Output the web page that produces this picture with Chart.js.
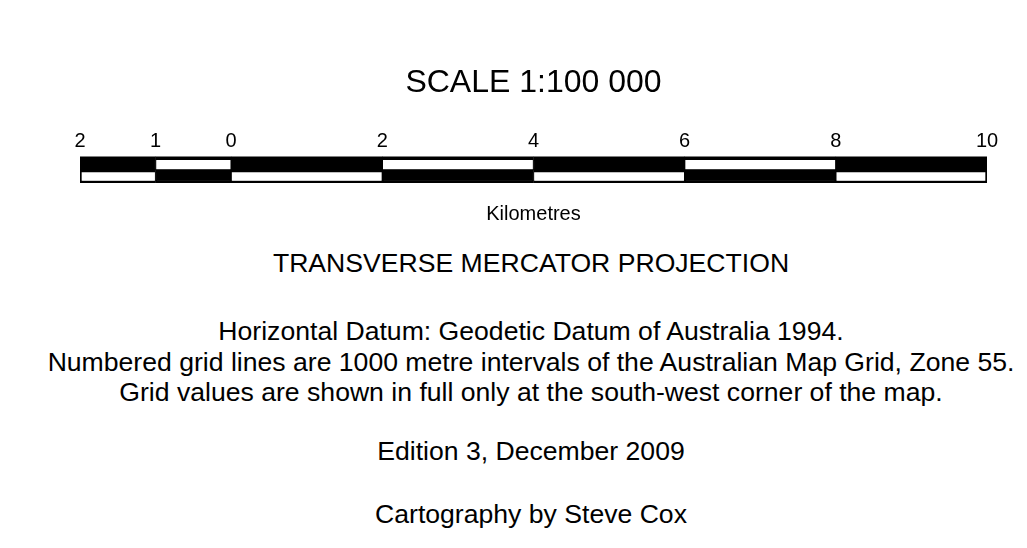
<!DOCTYPE html>
<html>
<head>
<meta charset="utf-8">
<title>Scale bar</title>
<script src="https://cdn.jsdelivr.net/npm/chart.js@4"></script>
<style>
  body { margin: 0; background: #fff; }
  #page { position: relative; width: 1027px; height: 548px; overflow: hidden; background: #fff; }
  #scale-bar { position: absolute; left: 0; top: 0; }
  .note {
    position: absolute;
    left: 35px;
    width: 992px;
    text-align: center;
    font-family: 'Liberation Sans', Arial, sans-serif;
    font-size: 26.6px;
    line-height: 30px;
    color: #000;
    white-space: nowrap;
  }
</style>
</head>
<body>
<div id="page">
  <canvas id="scale-bar" width="1027" height="226"></canvas>
  <div class="note" style="top:248px">TRANSVERSE MERCATOR PROJECTION</div>
  <div class="note" style="top:316px">Horizontal Datum: Geodetic Datum of Australia 1994.</div>
  <div class="note" style="top:347px">Numbered grid lines are 1000 metre intervals of the Australian Map Grid, Zone 55.</div>
  <div class="note" style="top:377px">Grid values are shown in full only at the south-west corner of the map.</div>
  <div class="note" style="top:436px">Edition 3, December 2009</div>
  <div class="note" style="top:499px">Cartography by Steve Cox</div>
</div>

<script>
// Divisões da barra de escala (km) e rótulos exibidos acima
const kmBreaks = [-2, -1, 0, 2, 4, 6, 8, 10];
const tickLabels = ['2', '1', '0', '2', '4', '6', '8', '10'];

// Duas faixas da barra, com cores alternadas
const rows = ['upper', 'lower'];
const upperFill = ['#000', '#fff', '#000', '#fff', '#000', '#fff', '#000'];
const lowerFill = ['#fff', '#000', '#fff', '#000', '#fff', '#000', '#fff'];

const FONT = "'Liberation Sans', Arial, sans-serif";

/**
 * Monta os segmentos [inicio, fim] de cada faixa
 */
function montarSegmentos() {
  const segs = [];
  const fills = [];
  rows.forEach((row, r) => {
    const cores = r === 0 ? upperFill : lowerFill;
    for (let i = 0; i < kmBreaks.length - 1; i++) {
      segs.push({ x: [kmBreaks[i], kmBreaks[i + 1]], y: row });
      fills.push(cores[i]);
    }
  });
  return { segs, fills };
}

const { segs, fills } = montarSegmentos();

// Borda preta em volta dos segmentos brancos
function bordaSegmento(ctx) {
  const p = ctx.raw;
  if (!p) return 0;
  const upper = p.y === 'upper';
  return {
    top: upper ? 4 : 3,
    bottom: upper ? 0.5 : 2.5,
    left: p.x[0] === kmBreaks[0] ? 2 : 1,
    right: p.x[1] === kmBreaks[kmBreaks.length - 1] ? 2 : 1
  };
}

const ctx = document.getElementById('scale-bar').getContext('2d');
new Chart(ctx, {
  type: 'bar',
  data: {
    labels: rows,
    datasets: [{
      data: segs,
      backgroundColor: fills,
      borderColor: '#000',
      borderWidth: bordaSegmento,
      borderSkipped: false,
      grouped: false,
      barPercentage: 1,
      categoryPercentage: 1
    }]
  },
  options: {
    indexAxis: 'y',
    responsive: false,
    animation: false,
    layout: {
      padding: { top: 0, left: 80, right: 40, bottom: 0 }
    },
    plugins: {
      legend: { display: false },
      tooltip: { enabled: false },
      title: {
        display: true,
        text: 'SCALE 1:100 000',
        color: '#000',
        font: { family: FONT, size: 32, weight: 'normal', lineHeight: 1.2 },
        padding: { top: 64, bottom: 24 }
      }
    },
    scales: {
      x: {
        type: 'linear',
        position: 'top',
        min: kmBreaks[0],
        max: kmBreaks[kmBreaks.length - 1],
        afterBuildTicks: (scale) => {
          scale.ticks = kmBreaks.map(v => ({ value: v }));
        },
        ticks: {
          autoSkip: false,
          maxRotation: 0,
          padding: 3,
          color: '#000',
          font: { family: FONT, size: 20, lineHeight: 1.2 },
          callback: (value, index) => tickLabels[index]
        },
        grid: { display: false, drawTicks: false },
        border: { display: false }
      },
      xKm: {
        type: 'linear',
        axis: 'x',
        position: 'bottom',
        min: kmBreaks[0],
        max: kmBreaks[kmBreaks.length - 1],
        ticks: { display: false },
        grid: { display: false, drawTicks: false },
        border: { display: false },
        title: {
          display: true,
          text: 'Kilometres',
          color: '#000',
          font: { family: FONT, size: 20, lineHeight: 1.2 },
          padding: { top: 19, bottom: 0 }
        }
      },
      y: {
        display: false,
        grid: { display: false }
      }
    }
  }
});
</script>
</body>
</html>
